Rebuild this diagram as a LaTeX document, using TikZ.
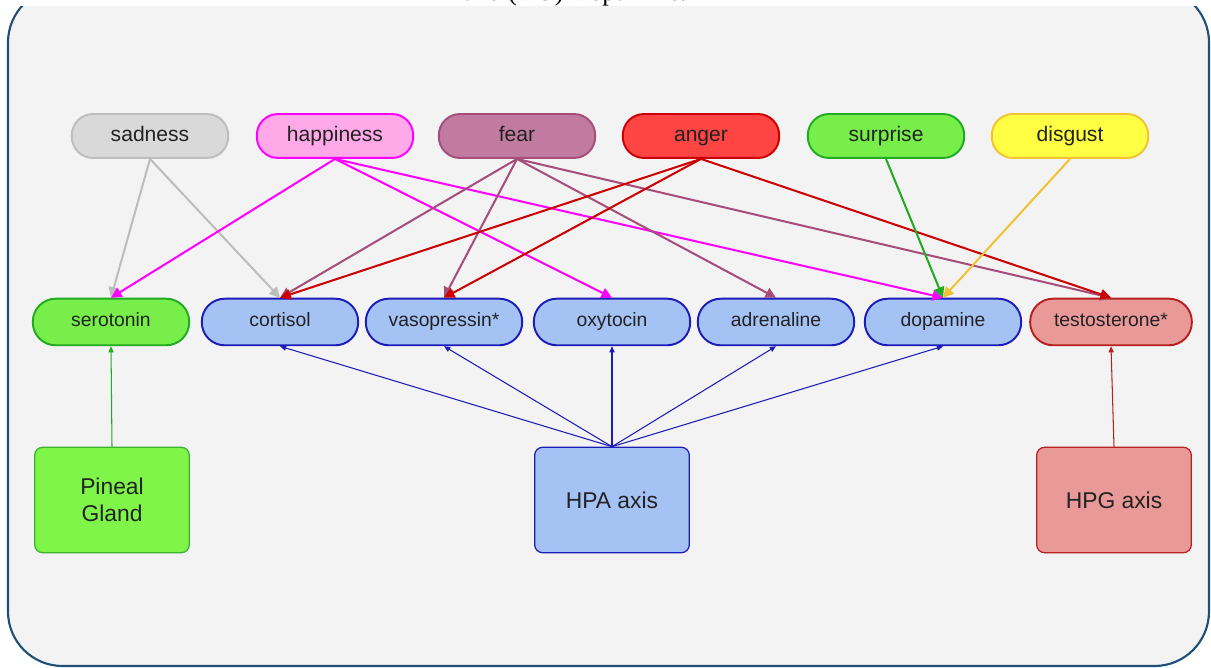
\documentclass[tikz,border=0pt]{standalone}
\usepackage{fontspec}
\setmainfont{Liberation Sans}
\newfontfamily\captionserif{Liberation Serif}
\usetikzlibrary{arrows.meta}

\definecolor{framecol}{HTML}{1F4E79}
\definecolor{bgcol}{HTML}{F3F3F3}
\definecolor{sadfill}{HTML}{D9D9D9}
\definecolor{saddraw}{HTML}{BDBDBD}
\definecolor{happyfill}{HTML}{FFA9E8}
\definecolor{happydraw}{HTML}{FF00FF}
\definecolor{fearfill}{HTML}{C27BA0}
\definecolor{feardraw}{HTML}{A64D79}
\definecolor{angerfill}{HTML}{FF4444}
\definecolor{angerdraw}{HTML}{CC0000}
\definecolor{surprisefill}{HTML}{77EE4A}
\definecolor{surprisedraw}{HTML}{22AA22}
\definecolor{disgustfill}{HTML}{FFFF44}
\definecolor{disgustdraw}{HTML}{F1C232}
\definecolor{hpafill}{HTML}{A4C2F4}
\definecolor{hpadraw}{HTML}{1C1CB8}
\definecolor{hpgfill}{HTML}{EA9999}
\definecolor{hpgdraw}{HTML}{B82020}
\definecolor{pinealfill}{HTML}{7FF54A}
\definecolor{pinealdraw}{HTML}{3CB030}
\definecolor{textcol}{HTML}{222222}

\begin{document}
\begin{tikzpicture}[x=0.02cm,y=-0.02cm,
    emotion/.style={draw, line width=1.1pt, rounded corners=12pt, minimum width=89pt,
      minimum height=25pt, text height=8.6pt, text depth=2.6pt, text=textcol,
      font=\fontsize{12}{14}\selectfont},
    hormone/.style={draw, line width=1.1pt, rounded corners=13pt, minimum width=89pt,
      minimum height=26.5pt, text height=7.9pt, text depth=2.4pt, text=textcol,
      font=\fontsize{11}{13}\selectfont},
    source/.style={draw, line width=0.7pt, rounded corners=4.5pt, minimum width=88pt,
      minimum height=60pt, align=center, text=textcol, font=\fontsize{13}{15.5}\selectfont},
    link/.style={line width=1.15pt, -{Triangle[length=6pt,width=6pt]}},
    feed/.style={line width=0.6pt, -{Triangle[length=3.5pt,width=3pt]}}]
    \useasboundingbox (0,0) rectangle (1211,668);
    % Frame
    \draw[framecol, line width=1.2pt, fill=bgcol, rounded corners=31pt] (8,-12) rectangle (1209,666);
    \fill[white] (-5,-20) rectangle (1216,6);
    \node[anchor=base, font=\fontsize{15}{17}\selectfont\captionserif] (caption) at (575,1) {and (DO) Dopamine.};

    % Emotions
    \node[emotion, fill=sadfill, draw=saddraw] (sadness) at (150,136) {sadness};
    \node[emotion, fill=happyfill, draw=happydraw] (happiness) at (335,136) {happiness};
    \node[emotion, fill=fearfill, draw=feardraw] (fear) at (517,136) {fear};
    \node[emotion, fill=angerfill, draw=angerdraw] (anger) at (701,136) {anger};
    \node[emotion, fill=surprisefill, draw=surprisedraw] (surprise) at (886,136) {surprise};
    \node[emotion, fill=disgustfill, draw=disgustdraw] (disgust) at (1070,136) {disgust};

    % Hormones
    \node[hormone, fill=surprisefill, draw=surprisedraw] (serotonin) at (111,322) {serotonin};
    \node[hormone, fill=hpafill, draw=hpadraw] (cortisol) at (280,322) {cortisol};
    \node[hormone, fill=hpafill, draw=hpadraw] (vasopressin) at (444,322) {vasopressin*};
    \node[hormone, fill=hpafill, draw=hpadraw] (oxytocin) at (612,322) {oxytocin};
    \node[hormone, fill=hpafill, draw=hpadraw] (adrenaline) at (776,322) {adrenaline};
    \node[hormone, fill=hpafill, draw=hpadraw] (dopamine) at (943,322) {dopamine};
    \node[hormone, fill=hpgfill, draw=hpgdraw, minimum width=92pt] (testosterone) at (1111,322) {testosterone*};

    % Glands
    \node[source, fill=pinealfill, draw=pinealdraw] (pineal) at (112,500) {Pineal\\Gland};
    \node[source, fill=hpafill, draw=hpadraw] (hpa) at (612,500) {HPA axis};
    \node[source, fill=hpgfill, draw=hpgdraw] (hpg) at (1114,500) {HPG axis};

    % Emotion to hormone
    \draw[link, saddraw] (sadness.south) -- (serotonin.north);
    \draw[link, saddraw] (sadness.south) -- (cortisol.north);
    \draw[link, happydraw] (happiness.south) -- (serotonin.north);
    \draw[link, happydraw] (happiness.south) -- (oxytocin.north);
    \draw[link, happydraw] (happiness.south) -- (dopamine.north);
    \draw[link, feardraw] (fear.south) -- (cortisol.north);
    \draw[link, feardraw] (fear.south) -- (vasopressin.north);
    \draw[link, feardraw] (fear.south) -- (adrenaline.north);
    \draw[link, feardraw] (fear.south) -- (testosterone.north);
    \draw[link, angerdraw] (anger.south) -- (cortisol.north);
    \draw[link, angerdraw] (anger.south) -- (vasopressin.north);
    \draw[link, angerdraw] (anger.south) -- (testosterone.north);
    \draw[link, surprisedraw] (surprise.south) -- (dopamine.north);
    \draw[link, disgustdraw] (disgust.south) -- (dopamine.north);

    % Gland to hormone
    \draw[feed, surprisedraw] (pineal.north) -- (serotonin.south);
    \foreach \target in {cortisol,vasopressin,oxytocin,adrenaline,dopamine}
      \draw[feed, hpadraw] (hpa.north) -- (\target.south);
    \draw[feed, hpgdraw] (hpg.north) -- (testosterone.south);
  \end{tikzpicture}
\end{document}
